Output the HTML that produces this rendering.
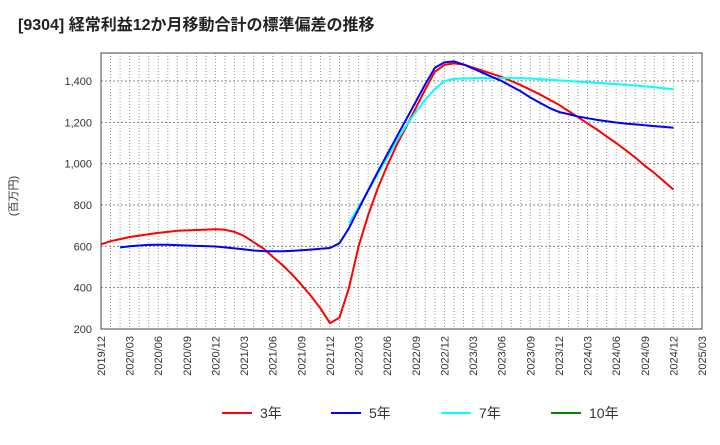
<!DOCTYPE html>
<html><head><meta charset="utf-8"><style>
body{margin:0;background:#fff;font-family:"Liberation Sans","Noto Sans CJK JP",sans-serif;}
</style></head><body>
<svg id="c" width="720" height="440" xmlns="http://www.w3.org/2000/svg" font-family="Liberation Sans, Noto Sans CJK JP, sans-serif"></svg>
<script>
const yTicks=[200,400,600,800,1000,1200,1400];
const xTickLabels=["2019/12","2020/03","2020/06","2020/09","2020/12","2021/03","2021/06","2021/09","2021/12","2022/03","2022/06","2022/09","2022/12","2023/03","2023/06","2023/09","2023/12","2024/03","2024/06","2024/09","2024/12","2025/03"];
const red3=[610,625,635,645,652,658,665,670,675,677,679,681,683,680,670,650,620,590,550,510,465,415,360,300,228,255,400,600,750,880,990,1090,1180,1270,1360,1445,1478,1485,1480,1465,1450,1435,1420,1400,1380,1358,1335,1310,1285,1255,1225,1195,1165,1132,1100,1065,1030,990,955,915,875];
const blue5Start=2;
const blue5=[590,595,600,604,607,608,608,606,604,602,601,599,595,590,585,580,577,576,576,578,581,584,588,592,615,688,780,870,960,1045,1130,1215,1300,1385,1464,1490,1495,1480,1460,1440,1420,1400,1375,1350,1320,1295,1270,1250,1240,1228,1220,1212,1205,1199,1194,1190,1186,1182,1178,1174];
const cyan7Start=26;
const cyan7=[713,790,870,950,1030,1110,1185,1250,1310,1361,1400,1410,1412,1413,1414,1414,1414,1414,1413,1412,1409,1406,1403,1400,1397,1394,1391,1388,1385,1382,1378,1374,1370,1365,1360];
blue5.splice(0,1);
const L=101,R=702,T=53,B=329;
const x=m=>L+m*(R-L)/63;
const y=v=>B-(v-200)*(248/1200);
const svg=document.getElementById('c');
const NS="http://www.w3.org/2000/svg";
function mk(t,a,p){const e=document.createElementNS(NS,t);for(const k in a)e.setAttribute(k,a[k]);(p||svg).appendChild(e);return e;}
let e=mk('text',{x:18,y:30,'font-size':16,'font-weight':'bold',fill:'#222'});e.textContent="[9304]  経常利益12か月移動合計の標準偏差の推移";

for(let m=0;m<=63;m++){e=mk('line',{x1:x(m),x2:x(m),y1:T,y2:B,stroke:'#999','stroke-width':1,'stroke-dasharray':'1,2'});
}
yTicks.forEach(v=>{e=mk('line',{x1:L,x2:R,y1:y(v),y2:y(v),stroke:'#888','stroke-width':1,'stroke-dasharray':'2,2'});

const t=mk('text',{x:92,y:y(v)+4,'font-size':11,'text-anchor':'end',fill:'#333'});t.textContent=v.toLocaleString('en-US');
});
xTickLabels.forEach((s,i)=>{const xx=x(i*3);const t=mk('text',{transform:`translate(${xx+4},336) rotate(-90)`,'font-size':11,'text-anchor':'end',fill:'#333'});t.textContent=s;
});
e=mk('rect',{x:L,y:T,width:R-L,height:B-T,fill:'none',stroke:'#444','stroke-width':1});

e=mk('text',{transform:'translate(17,196) rotate(-90)','font-size':11,'text-anchor':'middle',fill:'#333'});e.textContent="(百万円)";

function line(arr,start,col,name){const p=arr.map((v,i)=>`${x(start+i).toFixed(1)},${y(v).toFixed(1)}`).join(' ');
const l=mk('polyline',{points:p,fill:'none',stroke:col,'stroke-width':2,'stroke-linejoin':'round'});
}
line(red3,0,'#f00','line-3yr');line(cyan7,cyan7Start,'#0ff','line-7yr');line(blue5,blue5Start,'#00f','line-5yr');
const leg=[["3年","#f00",222],["5年","#00f",331],["7年","#0ff",441],["10年","#080",551]];
leg.forEach(([s,c,lx])=>{const g=mk('g',{});
mk('line',{x1:lx,x2:lx+30,y1:413,y2:413,stroke:c,'stroke-width':2},g);
const t=mk('text',{x:lx+38,y:418,'font-size':14,fill:'#333'},g);t.textContent=s;});
</script>
</body></html>
